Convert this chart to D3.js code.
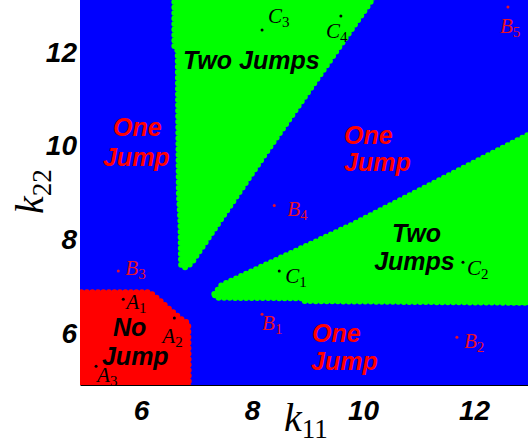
<!DOCTYPE html>
<html>
<head>
<meta charset="utf-8">
<script src="https://cdn.jsdelivr.net/npm/d3@7/dist/d3.min.js"></script>
<style>
	body { margin: 0; background: #fff; }
</style>
</head>
<body>
<div class="content"></div>
<script>
const w = 528;
const h = 444;
const m = { left: 80, top: 0, bottom: 385 };

const blue = '#0000ff';
const green = '#00ff00';
const red = '#ff0000';

// region outlines, [k11, k22]
const noJumpRegion = [[4.8, 4.8], [4.8, 6.88], [6.15, 6.88], [6.3, 6.74], [6.45, 6.58], [6.6, 6.43], [6.75, 6.28], [6.85, 6.22], [6.86, 4.8]];
const upperTwoJumpRegion = [[6.6, 13.3], [6.6, 12.1], [6.66, 12.03], [6.68, 9.0], [6.71, 8.37], [6.72, 7.47], [6.77, 7.4], [6.84, 7.43], [6.92, 7.52], [8.21, 9.78], [10.27, 13.3]];
const lowerTwoJumpRegion = [[7.32, 6.84], [7.45, 7.03], [7.78, 7.21], [9.84, 8.34], [13.3, 10.43], [13.3, 6.65], [12.05, 6.66], [8.92, 6.69], [8.9, 6.75], [7.35, 6.76]];

const xTicks = [6, 8, 10, 12];
const yTicks = [6, 8, 10, 12];

// marked parameter points
const pointLetter = ['A', 'A', 'A', 'B', 'B', 'B', 'B', 'B', 'C', 'C', 'C', 'C'];
const pointIndex = [1, 2, 3, 1, 2, 3, 4, 5, 1, 2, 3, 4];
const pointK11 = [5.68, 6.6, 5.19, 8.18, 11.69, 5.59, 8.4, 12.61, 8.49, 11.8, 8.18, 9.6];
const pointK22 = [6.73, 6.33, 5.3, 6.41, 5.92, 7.33, 8.73, 12.96, 7.33, 7.52, 12.47, 12.77];

// region names, one entry per line
const regionText = ['One', 'Jump', 'Two Jumps', 'One', 'Jump', 'Two', 'Jumps', 'One', 'Jump', 'No', 'Jump'];
const regionJumps = [1, 1, 2, 1, 1, 2, 2, 1, 1, 0, 0];
const regionK11 = [5.495, 5.314, 6.756, 9.657, 9.657, 10.52, 10.2, 9.08, 9.062, 5.495, 5.296];
const regionK22 = [10.22, 9.58, 11.645, 10.05, 9.47, 7.943, 7.347, 5.815, 5.219, 5.943, 5.326];

// label placement relative to each point (px)
const labelDx = [3, -12, 1, 0, 7, 7, 13, -8, 6, 4, 6, -15];
const labelDy = [10, 25, 16, 16, 11, 4, 11, 26, 12, 13, -7, 22];

const xScale = d3.scaleLinear()
	.domain([4.9, 13.0])
	.range([m.left, 529.6]);

const yScale = d3.scaleLinear()
	.domain([4.9, 13.1])
	.range([m.bottom, 0.5]);

const svg = d3.select('.content').append('svg')
	.attr('width', w)
	.attr('height', h)
	.style('display', 'block');

svg.append('clipPath')
	.attr('id', 'plot-clip')
	.append('rect')
	.attr('x', m.left)
	.attr('y', m.top)
	.attr('width', w - m.left)
	.attr('height', m.bottom - m.top);

const plot = svg.append('g')
	.attr('clip-path', 'url(#plot-clip)');

plot.append('rect')
	.attr('x', m.left)
	.attr('y', m.top)
	.attr('width', w - m.left)
	.attr('height', m.bottom - m.top)
	.attr('fill', blue);

const line = d3.line()
	.x((d) => xScale(d[0]))
	.y((d) => yScale(d[1]))
	.curve(d3.curveLinearClosed);

const regions = [
	{ pts: noJumpRegion, color: red },
	{ pts: upperTwoJumpRegion, color: green },
	{ pts: lowerTwoJumpRegion, color: green }
];

// scalloped edge mimics the scatter markers of the original
plot.selectAll('path.region')
	.data(regions)
	.enter()
	.append('path')
	.attr('class', 'region')
	.attr('d', (d) => line(d.pts))
	.attr('fill', (d) => d.color)
	.attr('stroke', (d) => d.color)
	.attr('stroke-width', 6)
	.attr('stroke-linecap', 'round')
	.attr('stroke-linejoin', 'round')
	.attr('stroke-dasharray', '0 5.5');

// region names
plot.selectAll('text.region-name')
	.data(regionText)
	.enter()
	.append('text')
	.attr('class', 'region-name')
	.attr('x', (d, i) => xScale(regionK11[i]))
	.attr('y', (d, i) => yScale(regionK22[i]))
	.attr('fill', (d, i) => regionJumps[i] === 1 ? red : '#000')
	.style('font-family', '"Liberation Sans", Arial, sans-serif')
	.style('font-weight', 'bold')
	.style('font-style', 'italic')
	.style('font-size', '25px')
	.text((d) => d);

// points
const pointColor = (i) => pointLetter[i] === 'B' ? '#e8102a' : '#000';

plot.selectAll('circle.pt')
	.data(pointK11)
	.enter()
	.append('circle')
	.attr('class', 'pt')
	.attr('cx', (d) => xScale(d))
	.attr('cy', (d, i) => yScale(pointK22[i]))
	.attr('r', 1.5)
	.attr('fill', (d, i) => pointColor(i));

const ptLabels = plot.selectAll('text.pt-label')
	.data(pointK11)
	.enter()
	.append('text')
	.attr('class', 'pt-label')
	.attr('x', (d, i) => xScale(d) + labelDx[i])
	.attr('y', (d, i) => yScale(pointK22[i]) + labelDy[i])
	.attr('fill', (d, i) => pointColor(i))
	.style('font-family', '"Liberation Serif", "Times New Roman", serif');

ptLabels.append('tspan')
	.style('font-style', 'italic')
	.style('font-size', '21px')
	.text((d, i) => pointLetter[i]);

ptLabels.append('tspan')
	.attr('dy', 4)
	.style('font-size', '15px')
	.text((d, i) => pointIndex[i]);

// axes
const xAxis = d3.axisBottom(xScale)
	.tickValues(xTicks)
	.tickSize(0)
	.tickSizeOuter(0)
	.tickPadding(15);

const yAxis = d3.axisLeft(yScale)
	.tickValues(yTicks)
	.tickSize(0)
	.tickSizeOuter(0)
	.tickPadding(3);

const gx = svg.append('g')
	.attr('id', 'x-axis')
	.attr('transform', 'translate(0,' + m.bottom + ')')
	.call(xAxis);

gx.select('.domain')
	.attr('stroke', '#000')
	.attr('stroke-width', 1);

const gy = svg.append('g')
	.attr('id', 'y-axis')
	.attr('transform', 'translate(' + m.left + ',0)')
	.call(yAxis);

gy.select('.domain').remove();

svg.selectAll('#x-axis text, #y-axis text')
	.attr('fill', '#000')
	.style('font-family', '"Liberation Sans", Arial, sans-serif')
	.style('font-weight', 'bold')
	.style('font-style', 'italic')
	.style('font-size', '28px');

// axis titles
const xTitle = svg.append('text')
	.attr('x', 284)
	.attr('y', 431)
	.style('font-family', '"Liberation Serif", "Times New Roman", serif');

xTitle.append('tspan')
	.style('font-style', 'italic')
	.style('font-size', '40px')
	.text('k');

xTitle.append('tspan')
	.attr('dy', 7)
	.style('font-size', '27px')
	.text('11');

const yTitle = svg.append('text')
	.attr('transform', 'translate(43,214) rotate(-90)')
	.style('font-family', '"Liberation Serif", "Times New Roman", serif');

yTitle.append('tspan')
	.style('font-style', 'italic')
	.style('font-size', '40px')
	.text('k');

yTitle.append('tspan')
	.attr('dy', 8)
	.style('font-size', '27px')
	.text('22');
</script>
</body>
</html>
